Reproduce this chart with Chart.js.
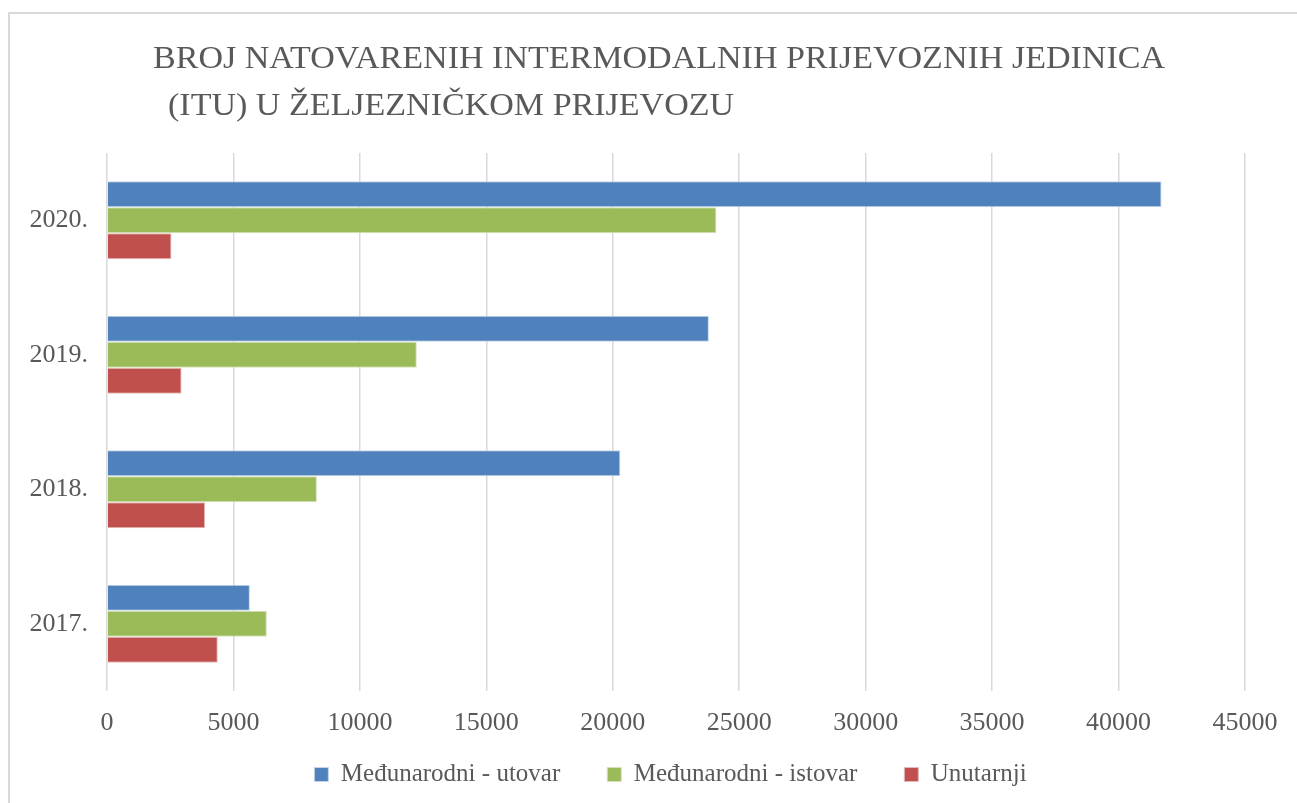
<!DOCTYPE html>
<html>
<head>
<meta charset="utf-8">
<script src="https://cdn.jsdelivr.net/npm/chart.js@4"></script>
<style>
  html, body { margin: 0; padding: 0; background: #fff; overflow: hidden; }
  #frame {
    position: absolute; left: 8px; top: 12px; width: 1300px; height: 800px;
    border-top: 2px solid #d9d9d9; border-left: 2px solid #d9d9d9;
  }
  #wrap { position: absolute; left: 0; top: 0; width: 1297px; height: 803px; }
</style>
</head>
<body>
<div id="frame"></div>
<div id="wrap"><canvas id="chart"></canvas></div>
<script>
// categories top to bottom
const godine = ["2020.", "2019.", "2018.", "2017."];
const medjunarodniUtovar = [41700, 23800, 20300, 5650];
const medjunarodniIstovar = [24100, 12250, 8300, 6320];
const unutarnji = [2550, 2950, 3880, 4380];

const naslov = [
    "BROJ NATOVARENIH INTERMODALNIH PRIJEVOZNIH JEDINICA",
    "(ITU) U ŽELJEZNIČKOM PRIJEVOZU"
];

const sivo = "#595959";
const font = "'Liberation Serif', 'Times New Roman', serif";

// title drawn by hand, second line is indented like the original
const naslovPlugin = {
    id: "naslov",
    afterLayout(chart) {
        // legend sits centred under the plot area, not the whole canvas
        chart.legend.left += 48;
        chart.legend.right += 48;
    },
    afterDraw(chart) {
        const ctx = chart.ctx;
        ctx.save();
        ctx.fillStyle = sivo;
        ctx.font = "31px " + font;
        ctx.textBaseline = "alphabetic";
        const sx = 1012 / ctx.measureText(naslov[0]).width;
        ctx.translate(153, 0);
        ctx.scale(sx, 1);
        ctx.fillText(naslov[0], 0, 68);
        ctx.fillText(naslov[1], 15 / sx, 115);
        ctx.restore();
    }
};

const ctx = document.getElementById("chart").getContext("2d");
new Chart(ctx, {
    type: "bar",
    data: {
        labels: godine,
        datasets: [
            { label: "Međunarodni - utovar", data: medjunarodniUtovar, backgroundColor: "#4F81BD", borderColor: "#c6d4e8", borderWidth: 1 },
            { label: "Međunarodni - istovar", data: medjunarodniIstovar, backgroundColor: "#9BBB59", borderColor: "#d3e2bd", borderWidth: 1 },
            { label: "Unutarnji", data: unutarnji, backgroundColor: "#C0504D", borderColor: "#e3b8b6", borderWidth: 1 }
        ]
    },
    options: {
        indexAxis: "y",
        responsive: true,
        maintainAspectRatio: false,
        animation: false,
        categoryPercentage: 0.58,
        barPercentage: 1.0,
        layout: { padding: { left: 0, top: 153, right: 52, bottom: 6 } },
        scales: {
            x: {
                min: 0,
                max: 45000,
                ticks: {
                    stepSize: 5000, color: sivo, font: { family: font, size: 26 }, padding: 17, maxRotation: 0,
                    callback: v => String(v)
                },
                grid: { color: "#d9d9d9", lineWidth: 1.5, drawTicks: false },
                border: { display: false },
                afterFit(scale) { scale.height = 49; }
            },
            y: {
                ticks: { color: sivo, font: { family: font, size: 26 }, padding: 19 },
                grid: { display: false, drawTicks: false },
                border: { display: false },
                afterFit(scale) { scale.width = 107; }
            }
        },
        plugins: {
            legend: {
                position: "bottom",
                labels: {
                    color: sivo,
                    font: { family: font, size: 25 },
                    boxWidth: 14,
                    boxHeight: 14,
                    padding: 22,
                    // wider gap between items than the vertical padding allows
                    generateLabels(chart) {
                        const items = Chart.defaults.plugins.legend.labels.generateLabels(chart);
                        items.forEach((it, i) => { if (i < items.length - 1) it.text += "\u2003"; });
                        return items;
                    }
                }
            },
            title: { display: false },
            tooltip: { enabled: false }
        }
    },
    plugins: [naslovPlugin]
});
</script>
</body>
</html>
